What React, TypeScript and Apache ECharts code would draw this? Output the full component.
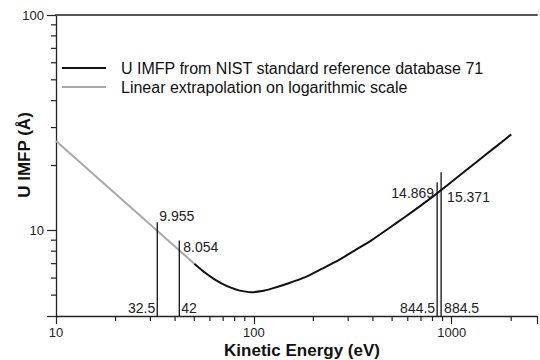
import React, { useEffect, useRef } from 'react';
import * as echarts from 'echarts';

// ---- data ----
const energyNIST = [50, 57, 63, 69, 76, 84, 97, 110, 123, 150, 182, 220, 267, 330, 393, 480, 578, 700, 800, 844.5, 884.5, 1000, 1200, 1500, 1800, 2000];
const imfpNIST = [7.0, 6.33, 5.93, 5.66, 5.43, 5.26, 5.16, 5.22, 5.36, 5.68, 6.06, 6.62, 7.25, 8.15, 8.98, 10.2, 11.5, 13.05, 14.3, 14.869, 15.371, 16.8, 19.2, 22.6, 25.8, 27.9];
const energyExtrap = [10, 50];
const imfpExtrap = [26.0, 7.0];

const markerEnergy = [32.5, 42, 844.5, 884.5];
const markerImfp = [9.955, 8.054, 14.869, 15.371];
const markerTop = [10.9, 8.98, 16.7, 18.6];

const xMinorTicks = [20, 30, 40, 50, 60, 70, 80, 90, 200, 300, 400, 500, 600, 700, 800, 900, 2000];
const yMinorTicks = [5, 6, 7, 8, 9, 20, 30, 40, 50, 60, 70, 80, 90];
const xTickLabels = ['10', '100', '1000'];
const yTickLabels = ['10', '100'];

const seriesNames = ['U IMFP from NIST standard reference database 71', 'Linear extrapolation on logarithmic scale'];
const xTitle = 'Kinetic Energy (eV)';
const yTitle = 'U IMFP (Å)';

const X_MIN = 10;
const X_MAX = 2700;
const Y_MIN = 4;
const Y_MAX = 100;

const FONT = '"Liberation Sans", Arial, Helvetica, sans-serif';

// label layout per marker (style only)
const markerLayout = [
  { vSide: 1, vDx: 2, vDy: -6, eSide: -1, eDx: 2 },
  { vSide: 1, vDx: 4, vDy: 7, eSide: 1, eDx: 2 },
  { vSide: -1, vDx: 3, vDy: 11, eSide: -1, eDx: 2 },
  { vSide: 1, vDx: 6, vDy: 25, eSide: 1, eDx: 3 },
];

function decadeLabel(v: number, labels: string[]) {
  const l = Math.log10(v);
  if (Math.abs(l - Math.round(l)) < 1e-6) {
    const s = String(Math.round(Math.pow(10, Math.round(l))));
    return labels.includes(s) ? s : '';
  }
  return '';
}

export default function App() {
  const ref = useRef<HTMLDivElement>(null);
  useEffect(() => {
    if (!ref.current) return;
    const chart = echarts.init(ref.current, undefined, { renderer: 'svg' });
    const option: any = {
      animation: false,
      backgroundColor: '#ffffff',
      grid: { left: 56, right: 0, top: 15, bottom: 44 },
      legend: {
        left: 61,
        top: 60,
        orient: 'vertical',
        padding: 0,
        itemWidth: 44,
        itemHeight: 14,
        itemGap: 3,
        data: seriesNames,
        itemStyle: { opacity: 0 },
        textStyle: { fontFamily: FONT, fontSize: 16, color: '#111', padding: [0, 0, 0, 10] },
      },
      xAxis: [
        {
          type: 'log',
          logBase: 10,
          min: X_MIN,
          max: X_MAX,
          axisLine: { show: true, lineStyle: { color: '#222', width: 1.3 } },
          axisTick: { show: true, length: 8, lineStyle: { color: '#222', width: 1.2 } },
          axisLabel: {
            show: true,
            margin: 10,
            fontFamily: FONT,
            fontSize: 13,
            color: '#222',
            formatter: (v: number) => decadeLabel(v, xTickLabels),
          },
          splitLine: { show: false },
          minorTick: { show: false },
        },
        {
          type: 'log',
          logBase: 10,
          min: X_MIN,
          max: X_MAX,
          position: 'top',
          axisLine: { show: true, lineStyle: { color: '#555', width: 2 } },
          axisTick: { show: false },
          axisLabel: { show: false },
          splitLine: { show: false },
        },
      ],
      yAxis: {
        type: 'log',
        logBase: 10,
        min: Y_MIN,
        max: Y_MAX,
        axisLine: { show: true, lineStyle: { color: '#222', width: 1.3 } },
        axisTick: { show: true, length: 9, lineStyle: { color: '#222', width: 1.2 } },
        axisLabel: {
          show: true,
          margin: 12,
          fontFamily: FONT,
          fontSize: 13,
          color: '#222',
          formatter: (v: number) => decadeLabel(v, yTickLabels),
        },
        splitLine: { show: false },
      },
      graphic: [
        {
          type: 'text',
          x: 24,
          y: 155,
          rotation: Math.PI / 2,
          style: {
            text: yTitle,
            fill: '#111',
            font: `bold 17px ${FONT}`,
            align: 'center',
            verticalAlign: 'middle',
            textAlign: 'center',
            textVerticalAlign: 'middle',
          },
        },
        {
          type: 'text',
          x: 302,
          y: 350,
          style: {
            text: xTitle,
            fill: '#111',
            font: `bold 17px ${FONT}`,
            align: 'center',
            verticalAlign: 'middle',
            textAlign: 'center',
            textVerticalAlign: 'middle',
          },
        },
      ],
      series: [
        {
          name: seriesNames[0],
          type: 'line',
          data: energyNIST.map((e, i) => [e, imfpNIST[i]]),
          showSymbol: false,
          symbol: 'none',
          smooth: 0.2,
          lineStyle: { color: '#111', width: 2 },
          itemStyle: { color: '#111' },
          z: 4,
        },
        {
          name: seriesNames[1],
          type: 'line',
          data: energyExtrap.map((e, i) => [e, imfpExtrap[i]]),
          showSymbol: false,
          symbol: 'none',
          lineStyle: { color: '#a8a8a8', width: 2 },
          itemStyle: { color: '#a8a8a8' },
          z: 3,
        },
        {
          type: 'custom',
          name: 'markers',
          data: markerEnergy.map((e, i) => [e, markerTop[i], markerImfp[i]]),
          z: 5,
          renderItem: (params: any, api: any) => {
            const i = params.dataIndex;
            const e = api.value(0);
            const top = api.value(1);
            const lay = markerLayout[i];
            const pb = api.coord([e, Y_MIN]);
            const pt = api.coord([e, top]);
            return {
              type: 'group',
              children: [
                {
                  type: 'line',
                  shape: { x1: pb[0], y1: pb[1], x2: pt[0], y2: pt[1] },
                  style: { stroke: '#111', lineWidth: 1.3 },
                },
                {
                  type: 'text',
                  x: pt[0] + lay.vSide * lay.vDx,
                  y: pt[1] + lay.vDy,
                  style: {
                    text: String(markerImfp[i]),
                    fill: '#222',
                    font: `14px ${FONT}`,
                    align: lay.vSide > 0 ? 'left' : 'right',
                    verticalAlign: 'middle',
                  },
                },
                {
                  type: 'text',
                  x: pb[0] + lay.eSide * lay.eDx,
                  y: pb[1] - 8,
                  style: {
                    text: String(markerEnergy[i]),
                    fill: '#222',
                    font: `14px ${FONT}`,
                    align: lay.eSide > 0 ? 'left' : 'right',
                    verticalAlign: 'middle',
                  },
                },
              ],
            };
          },
        },
        {
          type: 'custom',
          name: 'xminor',
          data: xMinorTicks.map((e) => [e, Y_MIN]),
          z: 6,
          renderItem: (params: any, api: any) => {
            const p = api.coord([api.value(0), Y_MIN]);
            return {
              type: 'line',
              shape: { x1: p[0], y1: p[1], x2: p[0], y2: p[1] + 5 },
              style: { stroke: '#222', lineWidth: 1.2 },
            };
          },
        },
        {
          type: 'custom',
          name: 'yminor',
          data: yMinorTicks.map((v) => [X_MIN, v]),
          z: 6,
          renderItem: (params: any, api: any) => {
            const p = api.coord([X_MIN, api.value(1)]);
            return {
              type: 'line',
              shape: { x1: p[0] - 5, y1: p[1], x2: p[0], y2: p[1] },
              style: { stroke: '#222', lineWidth: 1.2 },
            };
          },
        },
      ],
    };
    chart.setOption(option);
    return () => chart.dispose();
  }, []);
  return (
    <div
      ref={ref}
      style={{ position: 'fixed', left: 0, top: 0, width: 540, height: 360, background: '#fff' }}
    />
  );
}
